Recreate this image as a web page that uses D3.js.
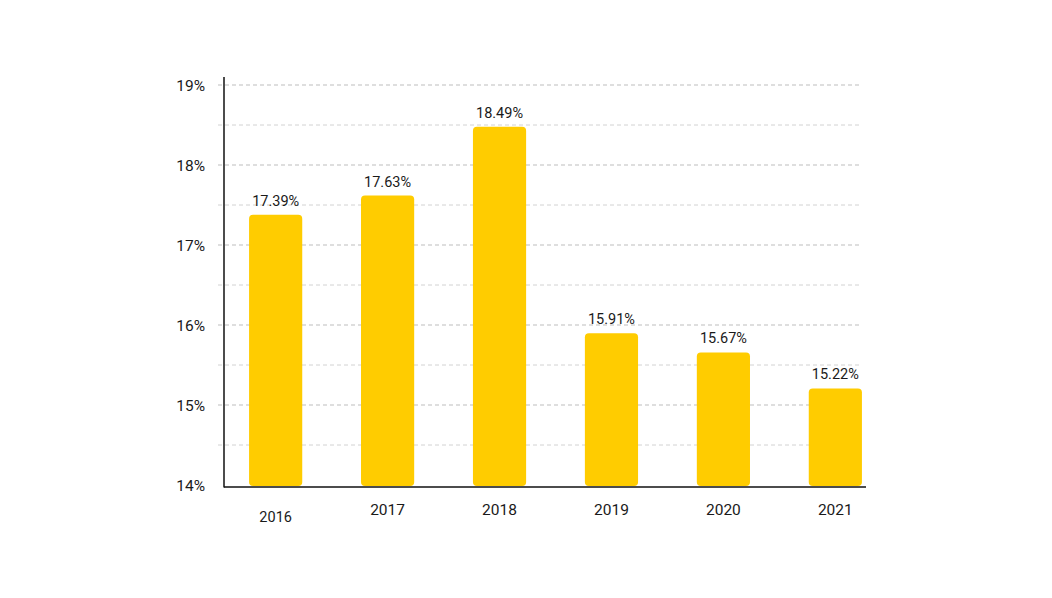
<!DOCTYPE html>
<html><head><meta charset="utf-8">
<script src="https://cdn.jsdelivr.net/npm/d3@7"></script>
<style>body{margin:0;background:#fff;} svg{display:block;font-family:Roboto,"Noto Sans",sans-serif;}</style>
</head><body>
<svg id="c" width="1052" height="598"></svg>
<script>
const years = ["2016","2017","2018","2019","2020","2021"];
const values = [17.39, 17.63, 18.49, 15.91, 15.67, 15.22];
const valueLabels = ["17.39%","17.63%","18.49%","15.91%","15.67%","15.22%"];
const yTicks = [14,15,16,17,18,19];
const yTickLabels = ["14%","15%","16%","17%","18%","19%"];
const gridValues = [14.5,15,15.5,16,16.5,17,17.5,18,18.5,19];

const svg = d3.select("#c");
const x = d3.scaleBand().domain(years).range([224, 887]).paddingInner(0.525).paddingOuter(0.224);
const y = d3.scaleLinear().domain([14, 19]).range([485, 85]);

// gridlines
svg.append("g").selectAll("line").data(gridValues).join("line")
  .attr("x1", 218).attr("x2", 860)
  .attr("y1", d => y(d)).attr("y2", d => y(d))
  .attr("stroke", (d,i) => (i%2===0) ? "#d2d2d2" : "#bdbdbd")
  .attr("stroke-width", 1)
  .attr("stroke-dasharray", "4,3");

// bars
svg.append("g").selectAll("rect").data(values).join("rect")
  .attr("x", (d,i) => x(years[i]))
  .attr("width", x.bandwidth())
  .attr("y", d => y(d) + 1)
  .attr("height", d => y(14) - y(d))
  .attr("rx", 4).attr("ry", 4)
  .attr("fill", "#ffcc00");

// value labels
svg.append("g").selectAll("text").data(values).join("text")
  .attr("x", (d,i) => x(years[i]) + x.bandwidth()/2)
  .attr("y", d => y(d) - 8)
  .attr("text-anchor", "middle")
  .attr("font-size", 14.5)
  .attr("fill", "#1a1a1a")
  .text((d,i) => valueLabels[i]);

// axes lines
svg.append("line").attr("x1", 224).attr("x2", 224).attr("y1", 77).attr("y2", 487.5)
  .attr("stroke", "#111").attr("stroke-width", 1.5);
svg.append("line").attr("x1", 224).attr("x2", 866).attr("y1", 487).attr("y2", 487)
  .attr("stroke", "#111").attr("stroke-width", 1.5);

// y tick labels
svg.append("g").selectAll("text").data(yTicks).join("text")
  .attr("x", 205)
  .attr("y", d => y(d) + 5.5)
  .attr("text-anchor", "end")
  .attr("font-size", 15.5)
  .attr("fill", "#1a1a1a")
  .text((d,i) => yTickLabels[i]);

// x labels
svg.append("g").selectAll("text").data(years).join("text")
  .attr("x", d => x(d) + x.bandwidth()/2)
  .attr("y", (d,i) => i === 0 ? 522 : 515)
  .attr("text-anchor", "middle")
  .attr("font-size", (d,i) => i === 0 ? 14.5 : 15.5)
  .attr("fill", "#1a1a1a")
  .text(d => d);
</script>
</body></html>
